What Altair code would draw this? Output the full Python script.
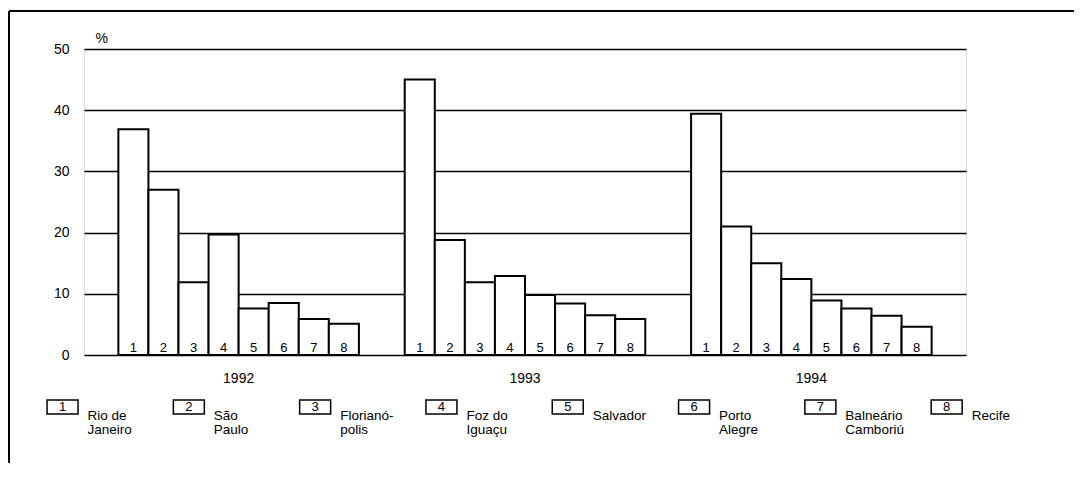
import altair as alt
import pandas as pd

years = ["1992", "1993", "1994"]
city_ids = ["1", "2", "3", "4", "5", "6", "7", "8"]
values_1992 = [36.9, 27.0, 11.9, 19.7, 7.6, 8.5, 5.9, 5.1]
values_1993 = [45.0, 18.8, 11.9, 12.9, 9.8, 8.4, 6.5, 5.9]
values_1994 = [39.4, 21.0, 15.0, 12.4, 8.9, 7.6, 6.4, 4.6]
city_names = ["Rio de\nJaneiro", "São\nPaulo", "Florianó-\npolis", "Foz do\nIguaçu",
              "Salvador", "Porto\nAlegre", "Balneário\nCamboriú", "Recife"]
y_ticks = [0, 10, 20, 30, 40, 50]

rows = []
for yr, vals in zip(years, [values_1992, values_1993, values_1994]):
    for c, v in zip(city_ids, vals):
        rows.append({"year": yr, "city": c, "value": v})
df = pd.DataFrame(rows)
leg = pd.DataFrame({"li": list(range(len(city_ids))), "num": city_ids, "name": city_names})
one = pd.DataFrame({"a": [0]})

FONT = "Liberation Sans"
W, H = 882, 306

x_enc = alt.X("year:N", sort=years,
              scale=alt.Scale(paddingInner=0.16, paddingOuter=0.12),
              axis=alt.Axis(title=None, domain=False, ticks=False, tickSize=0, labelAngle=0,
                            labelPadding=16, labelFontSize=14, labelFont=FONT, labelColor="black",
                            grid=False))
xo_enc = alt.XOffset("city:N", sort=city_ids, scale=alt.Scale(paddingInner=0, paddingOuter=0))
y_enc = alt.Y("value:Q", scale=alt.Scale(domain=[0, 50], nice=False),
              axis=alt.Axis(values=y_ticks, title="%", titleAngle=0, titleX=11, titleY=-4,
                            titleAlign="left", titleBaseline="bottom", titleFontSize=14,
                            titleFont=FONT, titleFontWeight="normal", titleColor="black",
                            domain=False, ticks=False, tickSize=0, labelPadding=15,
                            labelFontSize=14, labelFont=FONT, labelColor="black",
                            grid=True, gridColor="black", gridWidth=1.5, gridOpacity=1))

bars = alt.Chart(df).mark_bar(fill="white", stroke="black", strokeWidth=2).encode(
    x=x_enc, xOffset=xo_enc, y=y_enc)
bar_labels = alt.Chart(df).mark_text(fontSize=13, font=FONT, fill="black",
                                     baseline="alphabetic", dy=-3).encode(
    x=alt.X("year:N", sort=years), xOffset=alt.XOffset("city:N", sort=city_ids),
    y=alt.datum(0), text="city:N")
main = alt.layer(bars, bar_labels)

lx = alt.X("li:Q", scale=alt.Scale(domain=[0.170, 7.153], nice=False, zero=False), axis=None)
box_path = "M-1,-0.45H1V0.45H-1Z"
leg_boxes = alt.Chart(leg).mark_point(shape=box_path, size=961, filled=False, fill="white",
                                      fillOpacity=1, stroke="black", strokeWidth=1.5,
                                      opacity=1).encode(x=lx, y=alt.value(358))
leg_nums = alt.Chart(leg).mark_text(fontSize=13, font=FONT, fill="black",
                                    baseline="middle").encode(x=lx, y=alt.value(358), text="num:N")
leg_names = alt.Chart(leg).mark_text(fontSize=13.5, font=FONT, fill="black", align="left",
                                     baseline="top", dx=25, lineBreak="\n",
                                     lineHeight=14).encode(x=lx, y=alt.value(360), text="name:N")
legend = alt.layer(leg_boxes, leg_nums, leg_names)

frame_left = alt.Chart(one).mark_rule(color="black", strokeWidth=2).encode(
    x=alt.value(-75), y=alt.value(-38), y2=alt.value(414))
frame_top = alt.Chart(one).mark_rule(color="black", strokeWidth=2).encode(
    x=alt.value(-75), x2=alt.value(990), y=alt.value(-38))

chart = alt.layer(frame_left, frame_top, main, legend).resolve_scale(x="independent").properties(
    width=W, height=H, padding={"left": 0, "top": 2, "right": 0, "bottom": 0}
).configure_view(stroke=None).configure(font=FONT)

chart.save("out.html", embed_options={"renderer": "svg", "actions": False})
